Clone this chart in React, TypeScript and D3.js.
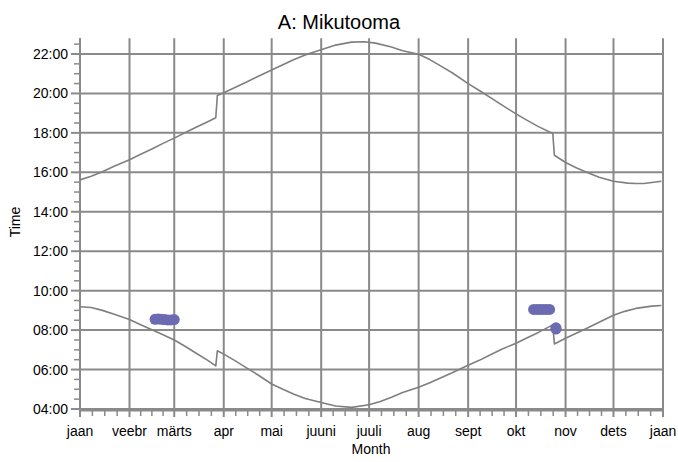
import React from "react";
import * as d3 from "d3";

const YEAR = 2015;
const MONTH_LABELS = ["jaan", "veebr", "märts", "apr", "mai", "juuni", "juuli", "aug", "sept", "okt", "nov", "dets", "jaan"];
const Y_TICKS = ["04:00", "06:00", "08:00", "10:00", "12:00", "14:00", "16:00", "18:00", "20:00", "22:00"];

const sunsetDates = ["01-01", "01-08", "01-15", "01-22", "02-01", "02-08", "02-15", "02-22", "03-01", "03-08", "03-15", "03-22", "03-27",
  "03-28", "04-01", "04-08", "04-15", "04-22", "05-01", "05-08", "05-15", "05-20", "05-25", "06-01", "06-10", "06-20", "06-28", "07-05", "07-15",
  "07-22", "08-01", "08-08", "08-15", "08-22", "09-01", "09-08", "09-15", "09-22", "10-01", "10-08", "10-15", "10-24",
  "10-25", "11-01", "11-08", "11-15", "11-22", "12-01", "12-10", "12-15", "12-20", "12-25", "12-31"];
const sunsetTimes = ["15:37", "15:48", "16:02", "16:18", "16:38", "16:55", "17:11", "17:28", "17:44", "18:01", "18:18", "18:34", "18:46",
  "19:54", "20:02", "20:18", "20:34", "20:51", "21:11", "21:27", "21:43", "21:53", "22:02", "22:13", "22:27", "22:36", "22:37", "22:33", "22:21",
  "22:10", "21:59", "21:43", "21:23", "21:03", "20:30", "20:09", "19:47", "19:25", "18:58", "18:38", "18:19", "17:58",
  "16:52", "16:30", "16:13", "15:59", "15:45", "15:33", "15:27", "15:26", "15:26", "15:29", "15:33"];

const sunriseDates = ["01-01", "01-08", "01-15", "01-22", "02-01", "02-08", "02-15", "02-22", "03-01", "03-08", "03-15", "03-22", "03-27",
  "03-28", "04-01", "04-08", "04-15", "04-22", "05-01", "05-08", "05-15", "05-22", "06-01", "06-10", "06-20", "07-01", "07-08", "07-15",
  "07-22", "08-01", "08-08", "08-15", "08-22", "09-01", "09-08", "09-15", "09-22", "10-01", "10-08", "10-15", "10-24",
  "10-25", "11-01", "11-08", "11-15", "11-22", "12-01", "12-08", "12-15", "12-25", "12-31"];
const sunriseTimes = ["09:11", "09:09", "09:00", "08:49", "08:32", "08:16", "08:01", "07:46", "07:30", "07:10", "06:49", "06:28", "06:11",
  "06:57", "06:47", "06:27", "06:06", "05:45", "05:16", "05:00", "04:45", "04:32", "04:20", "04:09", "04:05", "04:13", "04:23", "04:36",
  "04:50", "05:06", "05:20", "05:35", "05:50", "06:13", "06:28", "06:45", "07:02", "07:20", "07:37", "07:53", "08:16",
  "07:18", "07:35", "07:51", "08:07", "08:24", "08:45", "08:57", "09:06", "09:13", "09:15"];

const markDates = ["02-17", "02-19", "02-21", "02-23", "02-25", "02-27", "03-01", "10-12", "10-14", "10-16", "10-18", "10-20", "10-22", "10-26", "10-26"];
const markTimes = ["08:33", "08:34", "08:33", "08:32", "08:31", "08:31", "08:32", "09:03", "09:03", "09:03", "09:03", "09:03", "09:03", "08:07", "08:03"];

const toDate = (md: string) => {
  const [m, d] = md.split("-").map(Number);
  return new Date(Date.UTC(YEAR, m - 1, d));
};
const toHours = (t: string) => {
  const [h, m] = t.split(":").map(Number);
  return h + m / 60;
};

const FONT = "'Liberation Sans', Arial, sans-serif";
const GRID = "#8a8a8a";
const LINE = "#7f7f7f";
const BLUE = "#6b6bb2";

export default function App() {
  const x = d3.scaleUtc().domain([new Date(Date.UTC(YEAR, 0, 1)), new Date(Date.UTC(YEAR + 1, 0, 1))]).range([80, 663]);
  const y = d3.scaleLinear().domain([4, 22.8]).range([409, 38.2]);
  const top = y(22.8);
  const bottom = 410;

  const months = d3.utcMonth.range(new Date(Date.UTC(YEAR, 0, 1)), new Date(Date.UTC(YEAR + 1, 0, 2)));
  const minorX: number[] = [];
  for (let i = 0; i < months.length - 1; i++) {
    const a = x(months[i]);
    const b = x(months[i + 1]);
    for (let k = 1; k < 4; k++) minorX.push(a + ((b - a) * k) / 4);
  }
  const minorY: number[] = [];
  for (let h = 4.5; h <= 22.5; h += 1) minorY.push(h);
  for (let h = 5; h <= 21; h += 2) minorY.push(h);

  const line = d3
    .line<[Date, number]>()
    .x((d) => x(d[0]))
    .y((d) => y(d[1]))
    .curve(d3.curveLinear);

  const sunset: [Date, number][] = sunsetDates.map((d, i) => [toDate(d), toHours(sunsetTimes[i])]);
  const sunrise: [Date, number][] = sunriseDates.map((d, i) => [toDate(d), toHours(sunriseTimes[i])]);
  const marks: [Date, number][] = markDates.map((d, i) => [toDate(d), toHours(markTimes[i])]);

  return (
    <svg width={678} height={462} style={{ position: "absolute", left: 0, top: 0, background: "#fff" }} fontFamily={FONT}>
      <rect x={0} y={0} width={678} height={462} fill="#fff" />
      <text x={339} y={29} textAnchor="middle" fontSize={20} fill="#000">A: Mikutooma</text>

      {Y_TICKS.map((t) => (
        <line key={t} x1={80} x2={663} y1={y(toHours(t))} y2={y(toHours(t))} stroke={GRID} strokeWidth={2} />
      ))}
      {months.map((m, i) => (
        <line key={i} x1={x(m)} x2={x(m)} y1={top} y2={417} stroke={GRID} strokeWidth={2} />
      ))}

      <line x1={80} x2={80} y1={top} y2={bottom} stroke={GRID} strokeWidth={2} />
      {Y_TICKS.map((t) => (
        <g key={t}>
          <line x1={71} x2={80} y1={y(toHours(t))} y2={y(toHours(t))} stroke={GRID} strokeWidth={2} />
          <text x={68} y={y(toHours(t))} dy="0.36em" textAnchor="end" fontSize={14} fill="#000">{t}</text>
        </g>
      ))}
      {minorY.map((h) => (
        <line key={h} x1={74} x2={79} y1={y(h)} y2={y(h)} stroke={GRID} strokeWidth={1.5} />
      ))}

      <line x1={79} x2={664} y1={bottom} y2={bottom} stroke={GRID} strokeWidth={3} />
      {minorX.map((v, i) => (
        <line key={i} x1={v} x2={v} y1={bottom} y2={416} stroke={GRID} strokeWidth={1.5} />
      ))}
      {months.map((m, i) => (
        <text key={i} x={x(m)} y={436} textAnchor="middle" fontSize={14} fill="#000">{MONTH_LABELS[i]}</text>
      ))}

      <text x={371} y={454} textAnchor="middle" fontSize={14} fill="#000">Month</text>
      <text transform={`translate(20,222) rotate(-90)`} textAnchor="middle" fontSize={14} fill="#000">Time</text>

      <path d={line(sunset) || ""} fill="none" stroke={LINE} strokeWidth={1.6} strokeLinejoin="round" />
      <path d={line(sunrise) || ""} fill="none" stroke={LINE} strokeWidth={1.6} strokeLinejoin="round" />
      {marks.map((d, i) => (
        <circle key={i} cx={x(d[0])} cy={y(d[1])} r={5.5} fill={BLUE} />
      ))}
    </svg>
  );
}
